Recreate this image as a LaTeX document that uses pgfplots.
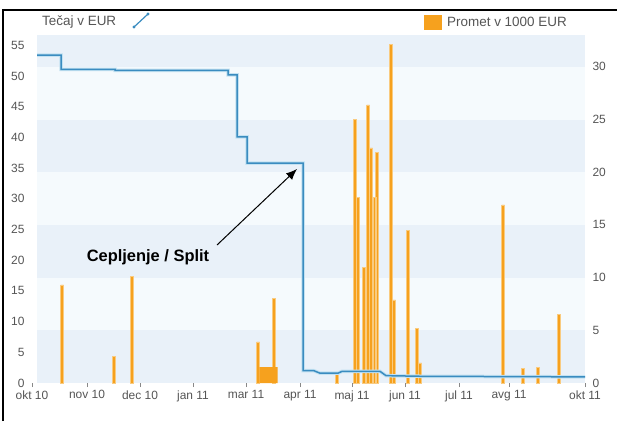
\documentclass[border=0pt]{standalone}
\usepackage{fontspec}
\setmainfont{Liberation Sans}
\usepackage{pgfplots}
\pgfplotsset{compat=1.18}
\usetikzlibrary{arrows.meta}

\definecolor{bandblue}{HTML}{E9F1F9}
\definecolor{paleblue}{HTML}{F5FAFD}
\definecolor{priceblue}{HTML}{3A8CC0}
\definecolor{halo}{HTML}{C4E2F2}
\definecolor{barorange}{HTML}{F6A11E}
\definecolor{baredge}{HTML}{F9CB80}
\definecolor{ticktext}{HTML}{555555}

% x is in reference pixels (okt 10 ~ 32, okt 11 ~ 585)
\pgfplotstableread{
x   v
37  53.4
61  53.4
61  51.1
115 51.1
115 50.9
228 50.9
228 50.2
237 50.2
237 40.1
247 40.1
247 35.8
303 35.8
303 2.0
314 2.0
320 1.6
338 1.6
342 1.9
380 1.9
386 1.2
420 1.1
585 1.0
}\price

\pgfplotstableread{
x   v
62  9.3
114 2.5
132 10.1
258 3.9
274 8.0
337 0.9
355 25.0
358 17.6
364 11.0
368 26.4
371 22.3
377 21.9
375 17.6
391 32.1
394 7.9
408 14.5
417 5.2
420 1.9
503 16.9
523 1.4
538 1.5
559 6.5
}\promet

% dense days in march, drawn as a solid block
\pgfplotstableread{
x   v
261 1.5
264 1.5
267 1.5
270 1.5
273 1.5
276 1.5
}\prometmar

\pgfplotsset{
  common/.style={
    at={(32bp,-383bp)}, anchor=south west,
    width=553bp, height=348bp, scale only axis,
    xmin=32, xmax=585,
    axis line style={draw=none},
    tick style={draw=ticktext!70, line width=0.6bp},
    major tick length=4bp,
    tick align=outside,
    /pgf/number format/assume math mode=true,
    ticklabel style={font=\fontsize{12}{12}\selectfont, text=ticktext},
  }
}

\begin{document}
\begin{tikzpicture}[x=1bp,y=1bp]
\useasboundingbox (0,0) rectangle (617,-421);
\draw[line width=1.2bp] (3,-421) -- (3,-10) -- (617,-10);

% turnover bars, right axis
\begin{axis}[common,
  ymin=0, ymax=33.02,
  axis y line*=right,
  ytick={0,5,...,30},
  y tick style={draw=none},
  xtick={32,87,140,193,246,300,352,405,459,509,585},
  xticklabels={okt 10,nov 10,dec 10,jan 11,mar 11,apr 11,maj 11,jun 11,jul 11,avg 11,okt 11},
  xtick pos=bottom,
]
\fill[paleblue] (axis cs:37,0) rectangle (axis cs:585,33.02);
\fill[bandblue] (axis cs:37,0) rectangle (axis cs:585,5);
\fill[bandblue] (axis cs:37,10) rectangle (axis cs:585,15);
\fill[bandblue] (axis cs:37,20) rectangle (axis cs:585,25);
\fill[bandblue] (axis cs:37,30) rectangle (axis cs:585,33.02);
\addplot[ybar, bar width=3bp, bar shift=0pt, fill=barorange, draw=baredge, line width=0.5bp]
  table[x=x, y=v] {\promet};
\addplot[ybar, bar width=3.4bp, bar shift=0pt, fill=barorange, draw=none]
  table[x=x, y=v] {\prometmar};
\end{axis}

% share price, left axis
\begin{axis}[common,
  ymin=0, ymax=56.68,
  axis y line*=left,
  ytick={0,5,...,55},
  y tick style={draw=none},
  xtick=\empty,
]
\addplot[halo, line width=3.5bp] table[x=x, y=v] {\price};
\addplot[priceblue, line width=1.5bp] table[x=x, y=v] {\price};
\end{axis}

% legend
\node[anchor=west, text=ticktext, font=\fontsize{13.5}{13.5}\selectfont, inner sep=0] at (42,-22) {Tečaj v EUR};
\draw[priceblue, line width=1.2bp] (134,-27) -- (148,-14);
\fill[priceblue] (134,-27) circle (1.6);
\fill[priceblue] (148,-14) circle (1.6);
\fill[barorange] (424,-15) rectangle (442,-30);
\node[anchor=west, text=ticktext, font=\fontsize{13.5}{13.5}\selectfont, inner sep=0] at (447,-22) {Promet v 1000 EUR};

% annotation
\node[font=\bfseries\fontsize{16.5}{16.5}\selectfont, inner sep=0] at (148,-257) {Cepljenje / Split};
\draw[line width=1bp, -{Latex[length=11bp, width=9bp]}] (217,-245) -- (297,-169);
\end{tikzpicture}
\end{document}
